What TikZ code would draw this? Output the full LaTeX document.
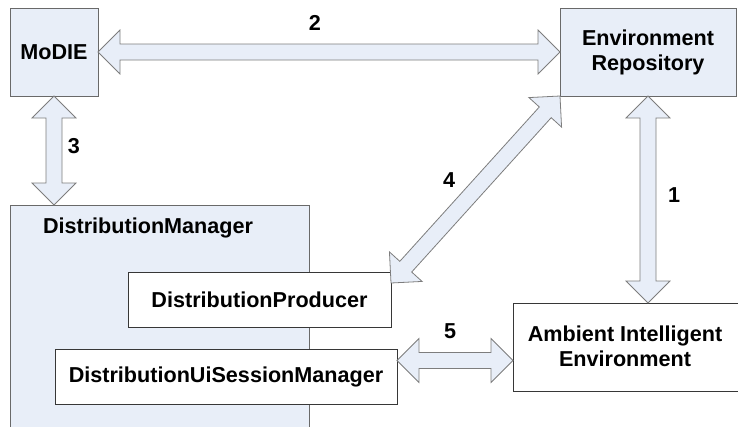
\documentclass[tikz,border=0pt]{standalone}
\usepackage{fontspec}
\setmainfont{Liberation Sans}
\usetikzlibrary{calc}
\definecolor{boxfill}{RGB}{232,238,248}
\definecolor{boxline}{RGB}{105,105,105}
\definecolor{whiteline}{RGB}{55,55,55}
\definecolor{arrline}{RGB}{125,125,125}
\newcommand\dblarrow[2]{%
  \coordinate (#1-m) at ($(#1)!22pt!(#2)$);
  \coordinate (#2-m) at ($(#2)!22pt!(#1)$);
  \filldraw[arrowstyle] (#1)
    -- ($(#1-m)!22pt!90:(#2)$) -- ($(#1-m)!8pt!90:(#2)$)
    -- ($(#2-m)!8pt!-90:(#1)$) -- ($(#2-m)!22pt!-90:(#1)$)
    -- (#2)
    -- ($(#2-m)!22pt!90:(#1)$) -- ($(#2-m)!8pt!90:(#1)$)
    -- ($(#1-m)!8pt!-90:(#2)$) -- ($(#1-m)!22pt!-90:(#2)$)
    -- cycle;}
\begin{document}
\begin{tikzpicture}[x=1pt,y=-1pt,
  every node/.style={font=\fontsize{21.6}{25}\selectfont\bfseries, inner sep=0pt, outer sep=0pt},
  bluebox/.style={draw=boxline, fill=boxfill, line width=0.9pt, anchor=north west, align=center},
  whitebox/.style={draw=whiteline, fill=white, line width=0.9pt, anchor=north west, align=center},
  arrowstyle/.style={draw=arrline, fill=boxfill, line width=0.8pt, line join=miter},
  numlabel/.style={anchor=center}]
\useasboundingbox (0,0) rectangle (738,426);
% boxes
\node[bluebox, minimum width=88pt, minimum height=88pt] (modie) at (10,8) {MoDIE};
\node[bluebox, minimum width=176pt, minimum height=88pt] (env) at (560,8) {Environment\\Repository};
\node[bluebox, minimum width=299pt, minimum height=240pt] (dm) at (10,205) {};
\node[anchor=base west] (dmlabel) at (43,233) {DistributionManager};
\node[whitebox, minimum width=263pt, minimum height=55pt] (prod) at (128,272) {DistributionProducer};
\node[whitebox, minimum width=342pt, minimum height=55pt] (uism) at (55,349) {DistributionUiSessionManager};
\node[draw=whiteline, fill=white, line width=0.9pt, anchor=north west, minimum width=240pt, minimum height=88pt] (amb) at (513,303) {};
\node[align=center] (ambtext) at (625,346) {Ambient Intelligent\\Environment};
% arrow endpoints
\coordinate (a2a) at (modie.east);
\coordinate (a2b) at (env.west);
\coordinate (a3a) at (modie.south);
\coordinate (a3b) at (modie.south |- dm.north);
\coordinate (a1a) at (env.south);
\coordinate (a1b) at (env.south |- amb.north);
\coordinate (a4a) at (env.south west);
\coordinate (a4b) at ($(prod.north east)+(0,11)$);
\coordinate (a5a) at ($(uism.east)+(0,-16)$);
\coordinate (a5b) at (amb.west |- a5a);
\dblarrow{a2a}{a2b}
\dblarrow{a3a}{a3b}
\dblarrow{a1a}{a1b}
\dblarrow{a4a}{a4b}
\dblarrow{a5a}{a5b}
% numbers
\node[numlabel] (n2) at (315,22.5) {2};
\node[numlabel] (n3) at (74,146.5) {3};
\node[numlabel] (n4) at (449,180) {4};
\node[numlabel] (n1) at (674,195) {1};
\node[numlabel] (n5) at (450,331) {5};
\end{tikzpicture}
\end{document}
